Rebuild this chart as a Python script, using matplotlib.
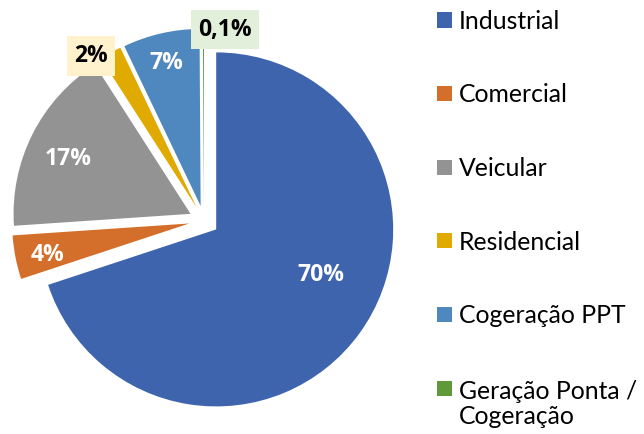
import numpy as np
import matplotlib
matplotlib.use("Agg")
import matplotlib.pyplot as plt
from matplotlib.patches import Rectangle

# ---- data ----
categories = ["Industrial", "Comercial", "Veicular", "Residencial",
              "Cogeração PPT", "Geração Ponta /\nCogeração"]
values = [70, 4, 17, 2, 7, 0.1]
value_labels = ["70%", "4%", "17%", "2%", "7%", "0,1%"]
colors = ["#3E64AD", "#D46E2B", "#939393", "#E1AA00", "#4E88BE", "#5E9A3A"]

# ---- layout / style ----
W, H = 644, 434
CX, CY, R = 204, 220.6, 177.0          # pie center & radius in pixels
explode_frac = 0.085
# label placement relative to each (exploded) wedge apex: (radius fraction, angle deg)
label_place = [(0.642, -23.4), (0.821, 192.5), (0.758, 156.1),
               (1.043, 124.9), (0.829, 103.7), (1.00, 83.2)]
label_color = ["white", "white", "white", "black", "white", "black"]
label_box = [None, None, None, "#FFF2CC", None, "#E2EFDA"]

plt.rcParams['font.family'] = ['Lato', 'DejaVu Sans']

fig = plt.figure(figsize=(W / 100, H / 100), dpi=100)
ax = fig.add_axes([0, 0, 1, 1])

wedges, _ = ax.pie(values, colors=colors, startangle=90, counterclock=False,
                   explode=[explode_frac] * len(values), radius=1.0,
                   wedgeprops=dict(linewidth=0))

for w, lab, (rf, ang), tc, bc in zip(wedges, value_labels, label_place,
                                      label_color, label_box):
    cx, cy = w.center
    x = cx + rf * np.cos(np.radians(ang))
    y = cy + rf * np.sin(np.radians(ang))
    kw = {}
    if bc is not None:
        kw["bbox"] = dict(boxstyle="square,pad=0.33", fc=bc, ec="none")
    ax.text(x, y, lab, ha="center", va="center", color=tc,
            fontsize=16.5, fontweight="bold", family=["Open Sans", "DejaVu Sans"], **kw)

ax.set_xlim(-CX / R, (W - CX) / R)
ax.set_ylim((CY - H) / R, CY / R)
ax.set_aspect("auto")
ax.axis("off")

# ---- legend (manual) ----
def fx(px):
    return px / W

def fy(py):
    return 1 - py / H

leg_x0 = 437
sq = 15
leg_y0 = 20
leg_step = 73.6
fs_leg = 17.8
cap = 0.72 * fs_leg * 100 / 72
line_gap = 27
for i, (cat, col) in enumerate(zip(categories, colors)):
    yc = leg_y0 + i * leg_step
    fig.add_artist(Rectangle((fx(leg_x0), fy(yc + sq / 2)), sq / W, sq / H,
                             transform=fig.transFigure, fc=col, ec="none"))
    lines = cat.split("\n")
    base = yc + cap / 2
    if len(lines) == 1:
        fig.text(fx(459), fy(base), cat, ha="left", va="baseline",
                 fontsize=fs_leg, color="black")
    else:
        fig.text(fx(459), fy(base + line_gap * (len(lines) - 1)), cat, ha="left",
                 va="baseline", fontsize=fs_leg, color="black", linespacing=1.12)

fig.savefig("out.png", dpi=100)
